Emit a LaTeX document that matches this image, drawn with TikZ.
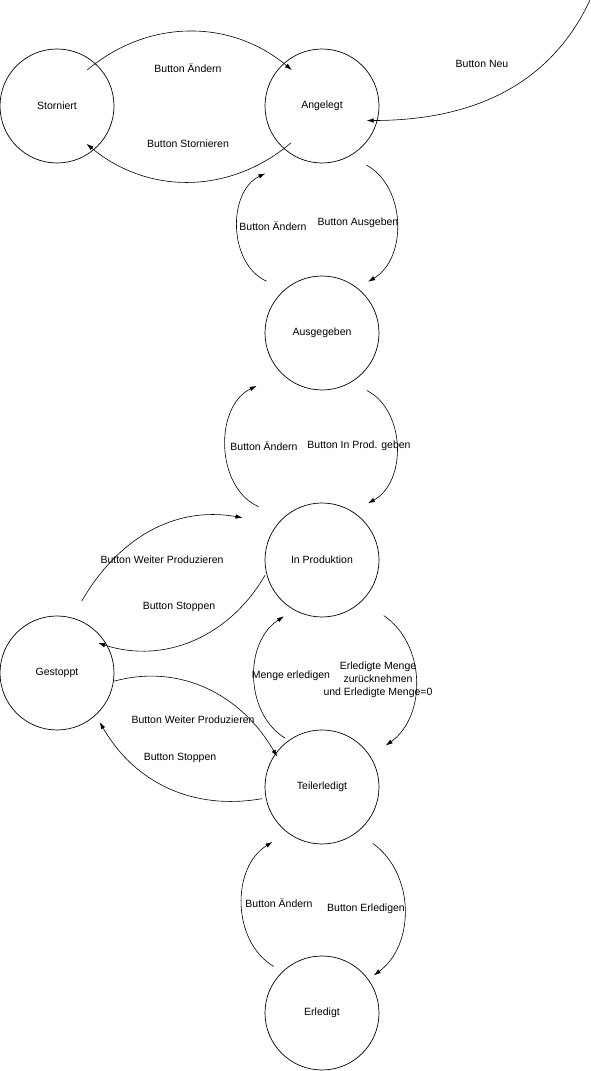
\documentclass[tikz,border=0pt]{standalone}
\usepackage{fontspec}
\setmainfont{Liberation Sans}
\usetikzlibrary{arrows.meta}

\begin{document}
\begin{tikzpicture}[x=1pt,y=1pt]
                \tikzset{State/.style={draw, circle, minimum size=114pt, inner sep=0pt, line width=0.7pt, font=\fontsize{10.5}{13}\selectfont}}
                \tikzset{LabelStyle/.style={inner sep=0pt, align=center, font=\fontsize{10.5}{13}\selectfont}}
                \tikzset{Trans/.style={line width=0.6pt, -{Latex[length=7pt,width=4.5pt]}}}
                \useasboundingbox (0,0) rectangle (591,1071);
                \node[State] (Storniert) at (57,965) {Storniert};
                \node[State] (Angelegt) at (322,965) {Angelegt};
                \node[State] (Ausgegeben) at (322,738) {Ausgegeben};
                \node[State] (InProduktion) at (322,511) {In Produktion};
		\node[State] (Gestoppt) at (57,398) {Gestoppt};
                \node[State] (Teilerledigt) at (322,284) {Teilerledigt};
		\node[State] (Erledigt) at (322,58) {Erledigt};
                \coordinate (NeuStart) at (590,1071);
		\node[LabelStyle] (L1) at (188,1003) {Button Ändern};
		\node[LabelStyle] (L2) at (188,927) {Button Stornieren};
		\node[LabelStyle] (L3) at (482,1007) {Button Neu};
		\node[LabelStyle] (L4) at (358,848) {Button Ausgeben};
		\node[LabelStyle] (L5) at (273,845) {Button Ändern};
		\node[LabelStyle] (L6) at (359,625) {Button In Prod. geben};
		\node[LabelStyle] (L7) at (264,625) {Button Ändern};
		\node[LabelStyle] (L8) at (162,511) {Button Weiter Produzieren};
		\node[LabelStyle] (L9) at (179,464) {Button Stoppen};
		\node[LabelStyle] (L10) at (193,351) {Button Weiter Produzieren};
		\node[LabelStyle] (L11) at (180,313) {Button Stoppen};
		\node[LabelStyle] (L12) at (291,395) {Menge erledigen};
		\node[LabelStyle] (L13) at (378,391) {Erledigte Menge\\zurücknehmen\\und Erledigte Menge=0};
		\node[LabelStyle] (L14) at (366,162) {Button Erledigen};
		\node[LabelStyle] (L15) at (279,168) {Button Ändern};
		\draw[Trans] ([shift={(50:47)}]Storniert.center) to[bend left=40] ([shift={(130:47)}]Angelegt.center);
		\draw[Trans] ([shift={(230:48)}]Angelegt.center) to[bend left=40] ([shift={(308:48)}]Storniert.center);
		\draw[Trans] (NeuStart) to[out=-115,in=0] ([shift={(342:47)}]Angelegt.center);
		\draw[Trans] ([shift={(307:74)}]Angelegt.center) to[bend left=60] ([shift={(48:69)}]Ausgegeben.center);
		\draw[Trans] ([shift={(137:76)}]Ausgegeben.center) to[bend left=65] ([shift={(230:88)}]Angelegt.center);
		\draw[Trans] ([shift={(308:73)}]Ausgegeben.center) to[bend left=62] ([shift={(51:73)}]InProduktion.center);
		\draw[Trans] ([shift={(140:83)}]InProduktion.center) to[bend left=65] ([shift={(219:84)}]Ausgegeben.center);
		\draw[Trans] ([shift={(71:76)}]Gestoppt.center) to[out=60,in=170] ([shift={(152:90)}]InProduktion.center);
		\draw[Trans] ([shift={(195:59)}]InProduktion.center) to[out=-120,in=-18] ([shift={(36:51)}]Gestoppt.center);
		\draw[Trans] ([shift={(352:58)}]Gestoppt.center) to[out=15,in=120] ([shift={(146:54)}]Teilerledigt.center);
		\draw[Trans] ([shift={(191:61)}]Teilerledigt.center) to[out=190,in=-60] ([shift={(311:65)}]Gestoppt.center);
		\draw[Trans] ([shift={(318:83)}]InProduktion.center) to[bend left=55] ([shift={(33:76)}]Teilerledigt.center);
		\draw[Trans] ([shift={(127:61)}]Teilerledigt.center) to[bend left=58] ([shift={(236:68)}]InProduktion.center);
		\draw[Trans] ([shift={(312:76)}]Teilerledigt.center) to[bend left=54] ([shift={(36:64)}]Erledigt.center);
		\draw[Trans] ([shift={(136:67)}]Erledigt.center) to[bend left=59] ([shift={(228:74)}]Teilerledigt.center);

            \end{tikzpicture}
\end{document}
